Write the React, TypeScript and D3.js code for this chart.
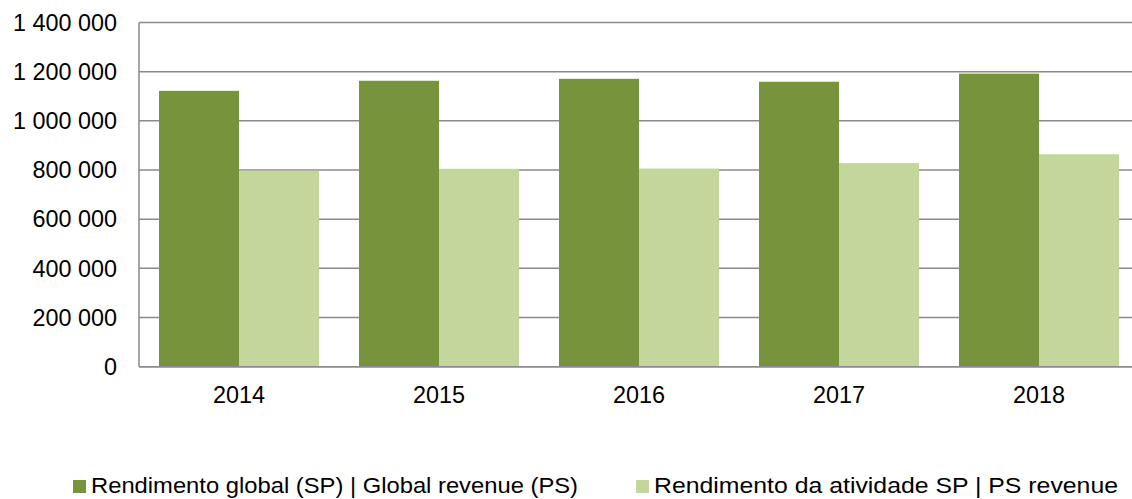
import React from "react";
import * as d3 from "d3";

const years = ["2014", "2015", "2016", "2017", "2018"];
const globalRevenue = [1122000, 1163000, 1171000, 1159000, 1192000];
const psRevenue = [797000, 805000, 806000, 828000, 864000];
const yTicks = [0, 200000, 400000, 600000, 800000, 1000000, 1200000, 1400000];
const seriesNames = [
  "Rendimento global (SP) | Global revenue (PS)",
  "Rendimento da atividade SP | PS revenue",
];
const colors = ["#77933C", "#C3D69B"];

const W = 1132;
const H = 499;

export default function App() {
  const y = d3.scaleLinear().domain([0, 1400000]).range([366.7, 22.5]);
  const x = d3.scaleBand<string>().domain(years).range([139, 1139]).paddingInner(0.2).paddingOuter(0.1);
  const xs = d3.scaleBand<number>().domain([0, 1]).range([0, x.bandwidth()]);
  const fmt = d3.formatLocale({ thousands: " ", grouping: [3], decimal: ",", currency: ["", ""] }).format(",d");
  const series = [globalRevenue, psRevenue];
  const font = "'Liberation Sans', Arial, sans-serif";
  const grid = "#8a8a8a";
  const x0 = 139;
  const x1 = 1139;
  const legendX = [73, 636];
  const legendLen = [487, 464];

  return (
    <div style={{ position: "absolute", left: 0, top: 0 }}>
      <svg width={W} height={H} style={{ display: "block" }}>
        <rect width={W} height={H} fill="#ffffff" />
        {yTicks.map((t) => (
          <line key={"g" + t} x1={x0} x2={x1} y1={y(t)} y2={y(t)} stroke={grid} strokeWidth={1.5} />
        ))}
        {series.map((vals, si) =>
          years.map((yr, i) => (
            <rect
              key={si + "-" + yr}
              x={(x(yr) as number) + (xs(si) as number)}
              y={y(vals[i])}
              width={xs.bandwidth()}
              height={y(0) - y(vals[i])}
              fill={colors[si]}
            />
          ))
        )}
        <line x1={x0} x2={x0} y1={y(1400000)} y2={y(0)} stroke={grid} strokeWidth={1.5} />
        <line x1={x0} x2={x1} y1={y(0)} y2={y(0)} stroke={grid} strokeWidth={1.5} />
        {yTicks.map((t) => (
          <text
            key={"t" + t}
            x={117}
            y={y(t)}
            dy="0.35em"
            textAnchor="end"
            fontFamily={font}
            fontSize={23.4}
            fill="#000"
          >
            {fmt(t)}
          </text>
        ))}
        {years.map((yr) => (
          <text
            key={"x" + yr}
            x={(x(yr) as number) + x.bandwidth() / 2}
            y={403}
            textAnchor="middle"
            fontFamily={font}
            fontSize={23.4}
            fill="#000"
          >
            {yr}
          </text>
        ))}
        {seriesNames.map((name, si) => (
          <g key={"l" + si}>
            <rect x={legendX[si]} y={480} width={13} height={13} fill={colors[si]} />
            <text
              x={legendX[si] + 18}
              y={493}
              fontFamily={font}
              fontSize={22.5}
              fill="#000"
              textLength={legendLen[si]}
              lengthAdjust="spacingAndGlyphs"
            >
              {name}
            </text>
          </g>
        ))}
      </svg>
    </div>
  );
}
